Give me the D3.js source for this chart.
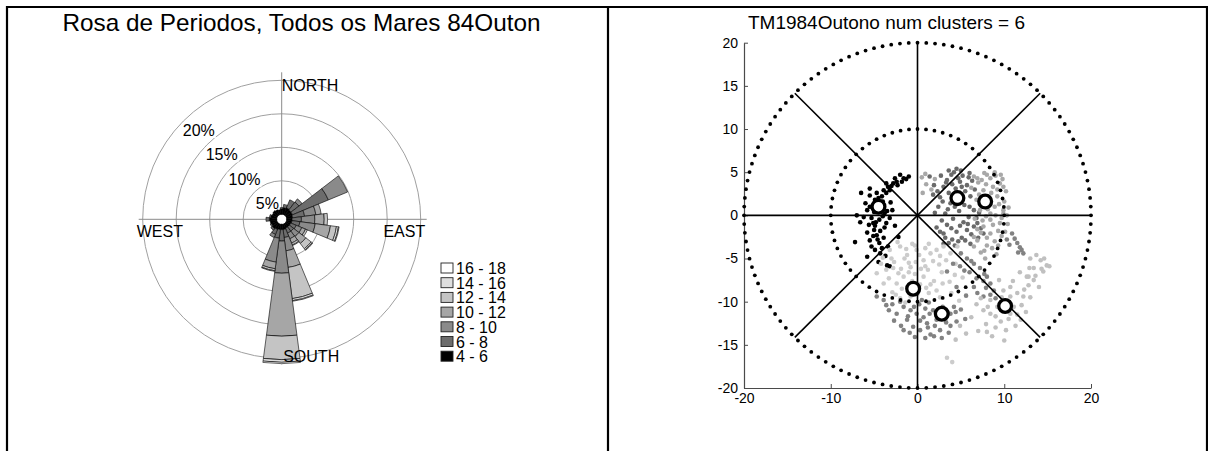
<!DOCTYPE html>
<html><head><meta charset="utf-8">
<script src="https://cdn.jsdelivr.net/npm/d3@7"></script>
<style>
body{margin:0;background:#fff}
svg{display:block}
text{font-family:Arial,"Liberation Sans",sans-serif;fill:#000}
</style>
</head><body>
<svg id="c" width="1208" height="451"></svg>
<script>
// ---------------- DATA ----------------
const leftTitle = "Rosa de Periodos, Todos os Mares 84Outon";
const rightTitle = "TM1984Outono num clusters = 6";

const roseDirections = [0,15,30,45,60,75,90,105,120,135,150,165,180,195,210,225,240,255,270,285,300,315,330,345];
const speedClasses = ["4 - 6","6 - 8","8 - 10","10 - 12","12 - 14","14 - 16","16 - 18"];
// percentage of each period class per direction (stacked outward)
const pct_4_6   = [0.8,1.0,1.1,1.0,1.0,0.9,0.8,0.8,0.7,0.7,0.7,0.8,0.8,0.8,0.9,1.0,0.9,1.0,1.1,0.9,0.8,0.9,0.8,0.7];
const pct_6_8   = [0.2,0.5,1.3,1.5,5.8,1.8,1.4,1.2,0.9,0.8,0.8,1.2,1.7,1.3,0.8,0.3,0.2,0.0,0.5,0.2,0.0,0.0,0.0,0.0];
const pct_8_10  = [0,0,0,0.6,3.1,1.7,2.0,2.3,0.9,1.0,0.9,2.0,4.8,3.6,0.5,0,0,0,0,0,0,0,0,0];
const pct_10_12 = [0,0,0,0,0,0.8,1.4,2.3,0.6,1.3,0.7,2.5,9.4,1.0,0,0,0,0,0,0,0,0,0,0];
const pct_12_14 = [0,0,0,0,0,0,0.5,0.9,0.3,1.0,0.3,4.7,3.5,0.3,0,0,0,0,0,0,0,0,0,0];
const pct_14_16 = [0,0,0,0,0,0,0,0.3,0,0.2,0.1,0.3,0.4,0.1,0,0,0,0,0,0,0,0,0,0];
const pct_16_18 = [0,0,0,0,0,0,0,0.1,0,0.1,0,0.1,0.2,0,0,0,0,0,0,0,0,0,0,0];
const ringTicks = [5,10,15,20];

// scatter: cluster centres and members
const clusterCenters = [[-4.5,1.0],[4.6,2.0],[7.8,1.6],[-0.5,-8.5],[2.8,-11.4],[10.1,-10.5]];
const clusterA = [[-4.6,1.2],[-4.2,0.6],[-5.0,0.4],[-4.9,1.8],[-4.0,1.6],[-3.8,0.2],[-5.3,-0.3],[-4.4,-0.5],[-3.6,-0.9],[-4.9,-1.2],[-5.5,1.0],[-6.0,1.4],[-5.8,0.6],[-5.5,2.3],[-5.5,3.1],[-4.7,2.6],[-4.1,2.2],[-3.6,2.6],[-3.2,2.9],[-3.0,3.4],[-2.8,3.7],[-2.4,3.9],[-2.0,4.7],[-1.6,4.3],[-1.0,4.5],[-1.3,4.2],[-2.6,4.3],[-3.4,3.3],[-3.9,2.9],[-6.5,2.6],[-7.0,0.0],[-6.6,-0.8],[-7.2,-3.1],[-5.8,-2.0],[-5.1,-2.4],[-4.7,-2.3],[-4.3,-1.8],[-3.9,-2.6],[-4.4,-3.2],[-5.3,-3.6],[-4.9,-4.0],[-4.3,-4.4],[-5.8,-4.8],[-4.5,-5.4],[-3.5,-5.8],[-3.2,-5.9],[-2.2,-2.5],[-2.9,0.6],[-3.2,-0.3],[-2.6,-1.2],[-3.4,-3.6],[-5.0,-1.7],[-4.0,-0.1],[-5.6,-1.1],[-3.1,1.5],[-4.8,-0.8],[-5.2,0.9],[-3.9,1.1],[-4.5,2.0],[-5.1,-0.9],[-3.8,-1.4],[-4.6,-2.8],[-5.5,-2.9],[-3.7,-4.7],[-4.1,-3.8],[-6.2,-0.2],[-3.5,0.5],[-2.3,3.5],[-1.8,3.9],[-3.6,3.7]];
const clusterB = [[4.2,5.0],[3.4,4.1],[3.0,3.3],[4.9,3.9],[6.1,2.2],[3.8,1.4],[2.4,1.0],[6.5,0.6],[5.2,4.6],[5.7,3.5],[4.4,3.1],[3.6,2.6],[5.4,1.2],[4.8,0.5],[3.2,0.2],[2.8,-0.6],[3.4,-1.1],[4.5,-1.9],[3.0,-2.1],[5.7,-1.7],[6.5,-1.3],[7.6,-2.1],[4.1,-0.4],[5.9,-0.2],[6.9,-0.9],[5.1,-2.6],[4.0,-2.8],[3.6,-3.2],[2.6,2.1],[1.9,3.5],[5.5,2.8],[6.3,4.0],[4.6,2.6],[2.2,-1.4],[7.1,0.3],[3.9,4.7],[5.0,5.2],[6.0,4.9],[2.3,2.8],[1.4,4.5],[5.3,-0.8],[4.3,1.0],[3.5,0.7],[6.0,1.0],[5.8,-1.0],[4.9,-1.2],[3.9,-1.5],[3.2,-2.6],[4.7,-3.0],[6.2,-2.2],[7.3,-1.5],[6.8,-0.3],[2.9,1.6],[3.3,3.8],[4.0,3.6],[4.7,4.3],[5.9,4.4],[6.6,3.0],[5.1,3.3],[2.7,4.6],[3.6,5.2],[4.5,5.4],[1.8,2.4],[2.0,0.3],[2.6,-1.9],[5.5,-2.9],[6.1,-3.3],[4.3,-3.5],[7.0,-2.6],[3.0,-3.3]];
const clusterC = [[6.5,4.5],[8.4,4.3],[9.5,3.7],[7.6,2.9],[9.2,2.2],[9.9,0.6],[7.2,0.6],[8.4,-0.5],[7.6,-1.3],[8.4,-2.1],[6.9,-2.9],[6.5,-2.5],[8.4,0.2],[9.5,-0.9],[9.9,0.2],[7.0,3.8],[8.0,4.7],[9.0,4.6],[8.7,3.3],[10.2,2.8],[10.0,1.6],[8.9,1.0],[7.9,-0.1],[6.8,1.8],[6.2,3.2],[9.3,-1.8],[8.9,-3.0],[8.0,-3.5],[7.3,-4.3],[6.5,-3.6],[10.4,-1.0],[10.5,0.9],[7.4,4.1],[9.8,4.2],[8.1,2.2],[6.6,-0.4],[0.5,4.4],[1.0,3.6],[0.9,4.8],[1.6,3.0],[0.6,2.6],[2.0,4.2],[9.1,-4.5],[7.8,-5.0],[8.7,-1.1],[9.0,0.0],[7.5,-0.6],[9.7,-0.3],[8.2,1.3],[9.4,1.3],[10.3,0.0],[7.1,2.4],[7.9,3.6],[9.2,3.0],[9.9,3.3],[8.5,2.6],[6.9,4.3],[7.7,4.9],[8.9,5.0],[9.6,4.7],[7.3,-2.0],[8.0,-2.6],[9.7,-2.4],[8.6,-3.8],[7.7,-4.1],[9.3,-3.5],[6.9,-1.6],[7.4,1.2],[10.1,-1.9],[8.1,0.7]];
const clusterD = [[-3.2,-4.0],[-2.0,-3.6],[-1.2,-4.6],[-0.1,-4.0],[0.7,-5.2],[1.5,-4.4],[2.2,-4.0],[-0.8,-6.0],[-1.6,-7.1],[-2.4,-7.9],[-3.9,-7.9],[0.7,-7.1],[2.2,-8.7],[-0.8,-9.4],[-4.7,-6.7],[-2.7,-5.4],[-1.9,-6.2],[-0.3,-6.8],[1.2,-6.3],[2.8,-6.6],[3.3,-5.2],[1.9,-7.6],[0.3,-8.0],[-1.1,-8.3],[-2.9,-8.9],[-3.6,-6.3],[-2.3,-3.1],[-0.6,-3.3],[0.9,-3.8],[3.0,-3.6],[1.3,-9.0],[-0.2,-5.4],[-1.5,-5.0],[0.4,-6.2],[2.6,-9.5],[3.7,-7.7],[-2.0,-9.6],[3.4,-16.5],[4.0,-17.0],[4.8,-9.9],[-1.4,-10.1],[5.2,-7.2],[-3.0,-5.0],[-1.0,-5.5],[0.2,-4.6],[1.8,-5.3],[2.5,-5.7],[-2.2,-6.7],[-0.6,-7.6],[1.0,-8.4],[-1.8,-8.5],[-3.3,-7.3],[-2.8,-6.1],[-0.3,-3.5],[1.3,-3.3],[2.6,-4.7],[3.8,-4.4],[4.4,-5.6],[4.3,-6.9],[2.9,-7.9],[-4.2,-5.6],[-4.0,-4.9],[0.9,-5.9],[-1.3,-3.9],[1.5,-8.0],[0.0,-9.1],[-2.5,-9.2],[-1.0,-6.6],[4.6,-3.6],[3.9,-9.0]];
const clusterE = [[-1.6,-10.6],[-0.8,-11.0],[-0.1,-11.4],[0.7,-11.8],[-1.2,-12.1],[-0.5,-12.9],[0.3,-13.3],[1.1,-12.5],[2.6,-13.3],[-3.9,-9.8],[-4.7,-9.4],[3.8,-11.4],[4.2,-10.6],[1.8,-11.0],[2.2,-12.1],[3.3,-12.4],[1.5,-13.8],[-0.9,-13.6],[-2.4,-11.4],[-2.9,-10.3],[0.2,-10.3],[1.3,-10.1],[-1.9,-12.8],[3.6,-13.6],[4.5,-12.3],[0.9,-14.2],[-0.3,-14.1],[2.9,-10.6],[-3.3,-11.0],[1.9,-14.0],[5.7,-5.0],[6.5,-5.6],[7.2,-6.1],[8.0,-7.1],[8.4,-7.9],[8.8,-8.7],[7.6,-9.4],[6.9,-9.0],[6.5,-8.3],[4.5,-8.3],[5.0,-4.4],[6.0,-6.6],[7.6,-7.6],[9.0,-9.6],[5.6,-9.3],[10.9,-2.1],[11.5,-3.2],[12.0,-4.0],[12.2,-4.4],[11.2,-2.7],[11.8,-3.7],[10.6,-3.4],[3.4,-6.5],[4.1,-5.6],[-2.0,-10.0],[-1.1,-11.7],[0.3,-12.2],[1.4,-11.4],[2.4,-11.0],[3.1,-11.8],[3.8,-12.8],[4.4,-11.2],[-1.6,-13.3],[-0.4,-10.6],[0.9,-10.8],[2.0,-12.8],[2.8,-14.2],[1.2,-13.0],[-2.7,-12.2],[-3.6,-10.4],[0.5,-9.8],[5.0,-10.9],[5.5,-12.0],[4.9,-5.9],[5.4,-6.4],[6.8,-7.3],[7.9,-8.4],[8.4,-9.2],[6.2,-5.3],[7.7,-6.8],[10.3,-2.8],[11.6,-4.3]];
const clusterF = [[8.4,-9.8],[9.2,-10.6],[10.7,-9.4],[11.5,-9.0],[10.7,-11.4],[11.9,-12.1],[8.4,-11.4],[7.6,-11.0],[10.7,-8.3],[12.6,-7.1],[13.4,-7.5],[13.0,-5.0],[14.2,-5.2],[14.9,-5.8],[14.5,-6.5],[13.4,-6.1],[14.0,-8.3],[12.8,-7.1],[12.0,-10.4],[11.3,-12.8],[9.6,-12.3],[9.0,-13.0],[10.2,-13.3],[7.9,-12.6],[12.3,-8.6],[11.0,-7.6],[9.9,-8.7],[13.0,-9.5],[4.9,-12.8],[5.6,-13.7],[4.4,-14.4],[6.2,-11.8],[7.0,-13.4],[8.6,-14.0],[12.5,-11.2],[6.8,-10.3],[9.4,-7.5],[13.7,-4.6],[9.0,-11.7],[10.3,-10.0],[11.1,-10.6],[9.7,-9.5],[8.1,-10.6],[11.5,-11.5],[12.2,-9.4],[12.8,-8.1],[13.6,-7.0],[14.3,-6.2],[15.2,-5.9],[14.6,-5.0],[12.9,-6.1],[10.5,-12.0],[10.0,-14.5],[8.0,-13.5],[11.8,-6.6],[7.3,-9.6]];
const xTicks = [-20,-10,0,10,20];
const yTicks = [-20,-15,-10,-5,0,5,10,15,20];
const polarRings = [10,20];
const spokeAngles = [0,45,90,135,180,225,270,315];

// ---------------- STYLE ----------------
const classColors = ["#000000","#6c6c6c","#8a8a8a","#a6a6a6","#c4c4c4","#dedede","#ffffff"];
const clusterColors = ["#000000","#6a6a6a","#a8a8a8","#cccccc","#828282","#c0c0c0"];

const svg = d3.select("#c");

// frame (table borders)
const frame = svg.append("g").attr("stroke","#000").attr("stroke-width",2.2);
frame.append("line").attr("x1",6).attr("x2",1208).attr("y1",7).attr("y2",7);
frame.append("line").attr("x1",7).attr("x2",7).attr("y1",6).attr("y2",451);
frame.append("line").attr("x1",608).attr("x2",608).attr("y1",6).attr("y2",451);
frame.append("line").attr("x1",1207).attr("x2",1207).attr("y1",6).attr("y2",451);

// ---------------- LEFT: ROSE ----------------
svg.append("text").attr("x",301.5).attr("y",31).attr("text-anchor","middle")
  .attr("font-size",24).attr("textLength",478).attr("lengthAdjust","spacingAndGlyphs").text(leftTitle);

const cx = 281.7, cy = 219.3;
const rose = svg.append("g").attr("transform",`translate(${cx},${cy})`);
const rScale = d3.scaleLinear().domain([0,20]).range([5,139]);
const axisHalf = 145;

// rings
rose.selectAll("circle.ring").data(ringTicks).join("circle")
  .attr("r",d=>rScale(d)).attr("fill","none").attr("stroke","#a0a0a0").attr("stroke-width",1);
// cross
rose.append("line").attr("x1",-axisHalf+2).attr("x2",axisHalf).attr("y1",0).attr("y2",0).attr("stroke","#8a8a8a");
rose.append("line").attr("x1",0).attr("x2",0).attr("y1",-axisHalf-2).attr("y2",axisHalf).attr("stroke","#8a8a8a");

// ring labels with white background
const labAng = 43*Math.PI/180;
ringTicks.forEach(p=>{
  const d = rScale(p)-17.5;
  const lx = -d*Math.sin(labAng), ly = -d*Math.cos(labAng);
  const t = rose.append("text").attr("x",lx).attr("y",ly+5.5).attr("text-anchor","middle")
    .attr("font-size",16).text(p+"%");
  const bb = t.node().getBBox();
  rose.insert("rect", function(){return t.node();})
    .attr("x",bb.x-1).attr("y",bb.y+1).attr("width",bb.width+2).attr("height",bb.height-2).attr("fill","#fff");
});

// wedges
const classArrays = [pct_4_6,pct_6_8,pct_8_10,pct_10_12,pct_12_14,pct_14_16,pct_16_18];
const segs = [];
roseDirections.forEach((dir,i)=>{
  let cum = 0;
  classArrays.forEach((arr,k)=>{
    const v = arr[i];
    if(v>0){ segs.push({dir, k, r0:cum, r1:cum+v}); }
    cum += v;
  });
});
const arc = d3.arc()
  .innerRadius(d=>rScale(d.r0)).outerRadius(d=>rScale(d.r1))
  .startAngle(d=>(d.dir-7.5)*Math.PI/180).endAngle(d=>(d.dir+7.5)*Math.PI/180);
rose.selectAll("path.w").data(segs).join("path")
  .attr("d",arc).attr("fill",d=>classColors[d.k]).attr("stroke","#000").attr("stroke-width",0.6);
rose.append("circle").attr("r",4.2).attr("fill","#fff");

// compass labels
rose.append("text").attr("x",0).attr("y",-128.5).attr("font-size",16).text("NORTH");
rose.append("text").attr("x",143.5).attr("y",17.5).attr("text-anchor","end").attr("font-size",16).text("EAST");
rose.append("text").attr("x",-145).attr("y",17.5).attr("font-size",16).text("WEST");
rose.append("text").attr("x",1.5).attr("y",142.5).attr("font-size",16).text("SOUTH");

// legend
const leg = svg.append("g").attr("transform","translate(441,263)");
const legRows = speedClasses.map((s,k)=>({s,k})).reverse();
legRows.forEach((d,i)=>{
  leg.append("rect").attr("x",0).attr("y",i*14.7).attr("width",12).attr("height",10)
    .attr("fill",classColors[d.k]).attr("stroke","#222").attr("stroke-width",0.9);
  leg.append("text").attr("x",15).attr("y",i*14.7+11).attr("font-size",16).text(d.s);
});

// ---------------- RIGHT: CLUSTERS ----------------
svg.append("text").attr("x",886.5).attr("y",29).attr("text-anchor","middle")
  .attr("font-size",19).attr("textLength",277).attr("lengthAdjust","spacingAndGlyphs").text(rightTitle);

const x = d3.scaleLinear().domain([-20,20]).range([744,1091]);
const y = d3.scaleLinear().domain([-20,20]).range([388,42.7]);

const axCol = "#4a4a4a";
const gx = svg.append("g").attr("transform",`translate(0,${y(-20)})`)
  .call(d3.axisBottom(x).tickValues(xTicks).tickSize(-4).tickSizeOuter(0).tickPadding(5).tickFormat(d=>String(d)));
const gy = svg.append("g").attr("transform",`translate(${x(-20)},0)`)
  .call(d3.axisLeft(y).tickValues(yTicks).tickSize(-4).tickSizeOuter(0).tickPadding(6).tickFormat(d=>String(d)));
[gx,gy].forEach(g=>{
  g.select(".domain").attr("stroke",axCol).attr("stroke-width",1.2);
  g.selectAll(".tick line").attr("stroke",axCol);
  g.selectAll("text").attr("font-size",14).attr("fill","#000").attr("font-family","Arial, Liberation Sans, sans-serif");
});

// scatter points
const clusters = [clusterA,clusterB,clusterC,clusterD,clusterE,clusterF];
const pts = svg.append("g");
clusters.forEach((arr,ci)=>{
  pts.selectAll(null).data(arr).join("circle")
    .attr("cx",d=>x(d[0])).attr("cy",d=>y(d[1])).attr("r",2.3).attr("fill",clusterColors[ci]);
});

// spokes
const grid = svg.append("g");
spokeAngles.forEach(a=>{
  const t = a*Math.PI/180;
  grid.append("line").attr("x1",x(0)).attr("y1",y(0))
    .attr("x2",x(20*Math.cos(t))).attr("y2",y(20*Math.sin(t)))
    .attr("stroke","#000").attr("stroke-width",1.6);
});
// dotted rings
polarRings.forEach(R=>{
  const n = R===20?124:64;
  grid.selectAll(null).data(d3.range(n)).join("circle")
    .attr("cx",i=>x(R*Math.cos(2*Math.PI*i/n))).attr("cy",i=>y(R*Math.sin(2*Math.PI*i/n)))
    .attr("r",1.9).attr("fill","#000");
});

// cluster centres
svg.append("g").selectAll("circle").data(clusterCenters).join("circle")
  .attr("cx",d=>x(d[0])).attr("cy",d=>y(d[1])).attr("r",6.4)
  .attr("fill","#fff").attr("stroke","#000").attr("stroke-width",3.3);
</script>
</body></html>
